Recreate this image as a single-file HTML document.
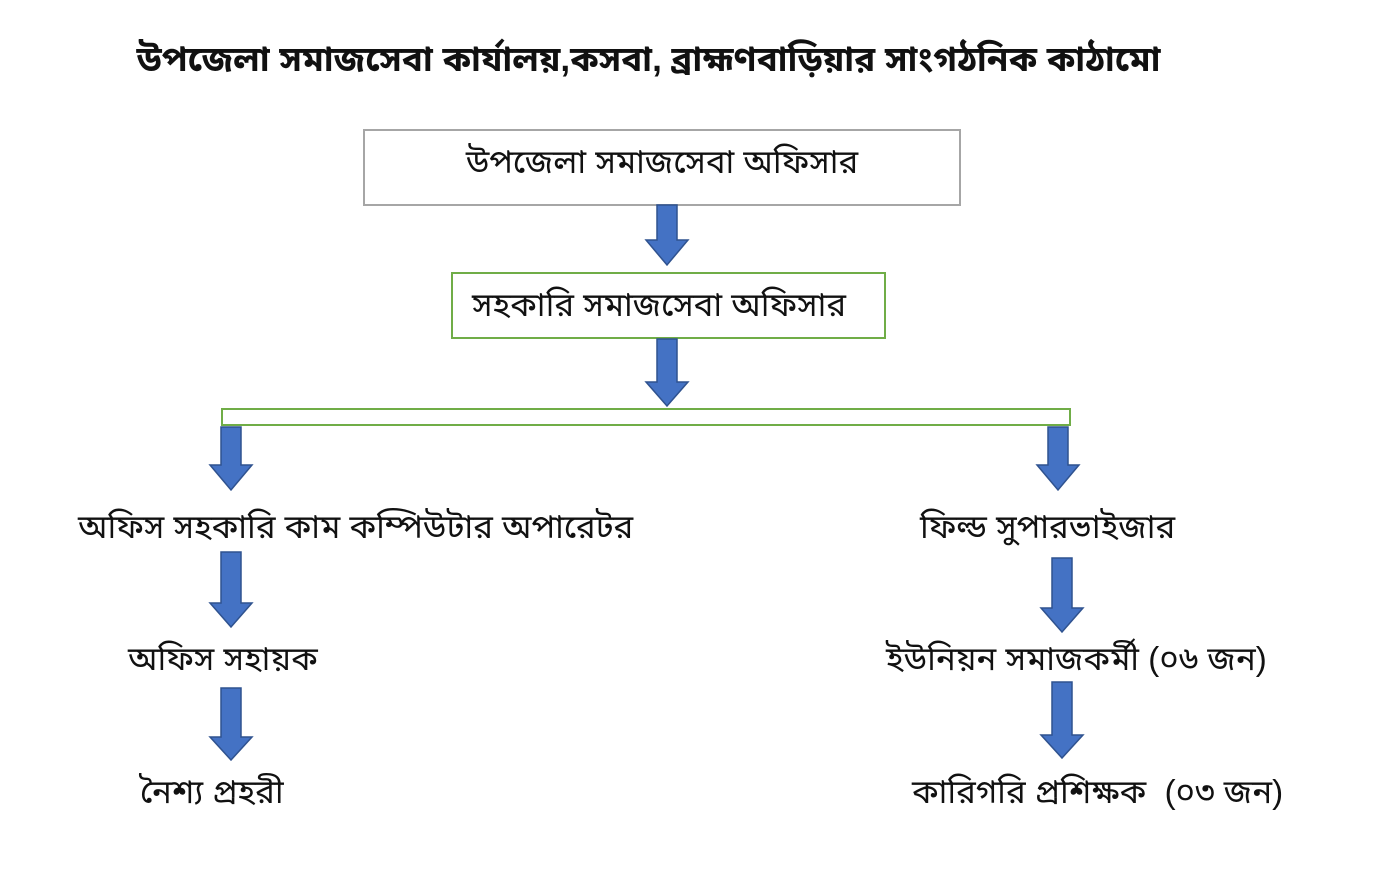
<!DOCTYPE html>
<html><head><meta charset="utf-8"><style>
body{margin:0;width:1387px;height:870px;background:#fff;position:relative;overflow:hidden;font-family:"Liberation Sans","Noto Sans Bengali","Lohit Bengali",sans-serif;color:#111}
.t{position:absolute;white-space:nowrap;font-size:33px;line-height:40px}
.box{position:absolute;background:#fff;box-sizing:border-box}
</style></head><body>
<div class="t" style="left:135px;top:40px;width:1027px;text-align:center;font-weight:bold;font-size:35px">উপজেলা সমাজসেবা কার্যালয়,কসবা, ব্রাহ্মণবাড়িয়ার সাংগঠনিক কাঠামো</div>
<div class="box" style="left:363px;top:129px;width:598px;height:77px;border:2px solid #a6a6a6"></div>
<div class="t" style="left:363px;top:142px;width:598px;text-align:center">উপজেলা সমাজসেবা অফিসার</div>
<div class="box" style="left:451px;top:272px;width:435px;height:67px;border:2px solid #70ad47"></div>
<div class="t" style="left:472px;top:285px">সহকারি সমাজসেবা অফিসার</div>
<div class="box" style="left:221px;top:408px;width:850px;height:18px;border:2px solid #70ad47"></div>
<svg width="1387" height="870" style="position:absolute;left:0;top:0" >
<g fill="#4472c4" stroke="#2f528f" stroke-width="1.5">
<path d="M657 205 H677 V240 H688 L667 265 L646 240 H657 Z"/>
<path d="M657 339 H677 V382 H688 L667 406 L646 382 H657 Z"/>
<path d="M221 427 H241 V465 H252 L231 490 L210 465 H221 Z"/>
<path d="M1048 427 H1068 V465 H1079 L1058 490 L1037 465 H1048 Z"/>
<path d="M221 552 H241 V603 H252 L231 627 L210 603 H221 Z"/>
<path d="M1052 558 H1072 V608 H1083 L1062 632 L1041 608 H1052 Z"/>
<path d="M221 688 H241 V737 H252 L231 760 L210 737 H221 Z"/>
<path d="M1052 682 H1072 V735 H1083 L1062 758 L1041 735 H1052 Z"/>
</g></svg>
<div class="t" style="left:78px;top:507px">অফিস সহকারি কাম কম্পিউটার অপারেটর</div>
<div class="t" style="left:920px;top:507px">ফিল্ড সুপারভাইজার</div>
<div class="t" style="left:128px;top:639px">অফিস সহায়ক</div>
<div class="t" style="left:886px;top:639px">ইউনিয়ন সমাজকর্মী (০৬ জন)</div>
<div class="t" style="left:140px;top:772px">নৈশ্য প্রহরী</div>
<div class="t" style="left:912px;top:772px">কারিগরি প্রশিক্ষক&nbsp; (০৩ জন)</div>
</body></html>
